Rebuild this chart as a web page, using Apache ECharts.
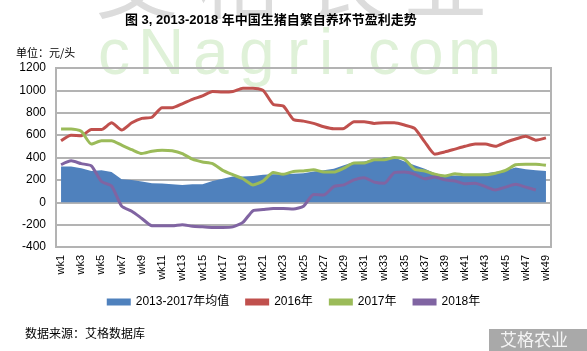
<!DOCTYPE html>
<html>
<head>
    <meta charset="utf-8">
    <title>图 3, 2013-2018 年中国生猪自繁自养环节盈利走势</title>
    <script src="https://cdn.jsdelivr.net/npm/echarts@6/dist/echarts.min.js"></script>
    <style>
        html, body { margin: 0; padding: 0; background: #ffffff; }
        #chart { width: 587px; height: 351px; }
    </style>
</head>
<body>
<div id="chart"></div>
<script>
    // 周次
    var weeks = [];
    for (var w = 1; w <= 49; w++) { weeks.push('wk' + w); }

    // 2013-2017年均值
    var avgData = [320, 320, 305, 280, 285, 270, 205, 200, 185, 170,
                   168, 160, 155, 160, 160, 190, 210, 230, 230, 235,
                   245, 250, 250, 255, 260, 275, 285, 300, 330, 360,
                   365, 385, 400, 400, 365, 330, 300, 260, 240, 240,
                   240, 245, 260, 270, 285, 310, 295, 285, 280];
    // 2016年
    var data2016 = [550, 600, 595, 650, 650, 710, 645, 710, 750, 760,
                    845, 845, 880, 920, 950, 990, 985, 990, 1020, 1020,
                    1000, 875, 860, 740, 725, 705, 675, 657, 660, 720,
                    720, 705, 710, 710, 690, 660, 540, 430, 450, 475,
                    500, 520, 520, 500, 535, 565, 590, 555, 575];
    // 2017年
    var data2017 = [655, 655, 635, 520, 550, 550, 510, 470, 435, 456,
                    465, 460, 435, 385, 360, 345, 285, 246, 210, 155,
                    190, 265, 250, 275, 280, 290, 270, 270, 305, 350,
                    350, 380, 380, 400, 385, 295, 280, 250, 235, 255,
                    245, 245, 245, 260, 285, 335, 340, 340, 330];
    // 2018年
    var data2018 = [335, 370, 345, 325, 185, 145, -35, -80, -145, -210,
                    -210, -210, -200, -215, -220, -225, -225, -220, -180, -75,
                    -65, -55, -55, -60, -35, 70, 65, 140, 155, 200,
                    220, 180, 170, 265, 270, 250, 210, 225, 200, 190,
                    165, 170, 140, 110, 135, 160, 135, 110, null];

    // 背景水印 cNagri.com，逐字排开
    var markLetters = ['c', 'N', 'a', 'g', 'r', 'i', '.', 'c', 'o', 'm'];
    var markLeft = [98, 138, 193, 239, 287, 319, 341, 368, 408, 448];

    var graphics = [
        {
            type: 'text', left: 95, top: -62, z: -1,
            style: { text: '艾 格 农 业', fontSize: 84, fill: '#dcdcdc',
                     fontFamily: '"Noto Sans CJK SC", sans-serif' }
        }
    ];
    markLetters.forEach(function (ch, i) {
        graphics.push({
            type: 'text', left: markLeft[i], top: 24, z: -1,
            style: { text: ch, fontSize: 64, fill: '#dff1d8',
                     fontFamily: 'Arial, "Liberation Sans", sans-serif' }
        });
    });
    graphics.push(
        {
            type: 'text', left: 16, top: 47,
            style: { text: '单位：元/头', fontSize: 11, fill: '#000',
                     fontFamily: '"Noto Sans CJK SC", sans-serif' }
        },
        {
            type: 'text', left: 25, top: 327,
            style: { text: '数据来源：艾格数据库', fontSize: 12, fill: '#000',
                     fontFamily: '"Noto Sans CJK SC", sans-serif' }
        },
        {
            type: 'rect', left: 489, top: 329,
            shape: { width: 98, height: 22 },
            style: { fill: '#a9a9a9' }
        },
        {
            type: 'text', left: 500, top: 331,
            style: { text: '艾格农业', fontSize: 17, fill: '#f4f4f4',
                     fontFamily: '"Noto Sans CJK SC", sans-serif' }
        }
    );

    var chart = echarts.init(document.getElementById('chart'));

    var option = {
        backgroundColor: '#ffffff',
        animation: false,
        textStyle: { fontFamily: 'Arial, "Liberation Sans", "Noto Sans CJK SC", sans-serif' },
        title: {
            text: '图 3, 2013-2018 年中国生猪自繁自养环节盈利走势',
            left: 120,
            top: 9,
            textStyle: { fontSize: 13, fontWeight: 'bold', color: '#000' }
        },
        graphic: graphics,
        legend: {
            top: 291,
            left: 'center',
            itemWidth: 24,
            itemHeight: 7,
            itemGap: 16,
            textStyle: { fontSize: 12, color: '#000' },
            data: [
                { name: '2013-2017年均值', icon: 'rect' },
                { name: '2016年', icon: 'rect' },
                { name: '2017年', icon: 'rect' },
                { name: '2018年', icon: 'rect' }
            ]
        },
        grid: {
            left: 56, right: 36, top: 68, bottom: 104,
            show: true, borderColor: '#b3b3b3', borderWidth: 2
        },
        xAxis: {
            type: 'category',
            data: weeks,
            boundaryGap: true,
            axisLine: { show: false },
            axisTick: { show: false },
            axisLabel: { interval: 1, rotate: 90, fontSize: 11, color: '#000', margin: 8 }
        },
        yAxis: {
            type: 'value',
            min: -400,
            max: 1200,
            interval: 200,
            axisLine: { show: false },
            axisTick: { show: false },
            axisLabel: {
                fontSize: 12, color: '#000', margin: 10,
                formatter: function (v) { return String(v); }
            },
            splitLine: { lineStyle: { color: '#b3b3b3', width: 2 } }
        },
        series: [
            {
                name: '2013-2017年均值',
                type: 'line',
                data: avgData,
                symbol: 'none',
                lineStyle: { width: 0 },
                itemStyle: { color: '#4f81bd' },
                areaStyle: { color: '#4f81bd', opacity: 1 }
            },
            {
                name: '2016年',
                type: 'line',
                data: data2016,
                symbol: 'none',
                smooth: 0.2,
                lineStyle: { width: 3, color: '#c0504d' },
                itemStyle: { color: '#c0504d' }
            },
            {
                name: '2017年',
                type: 'line',
                data: data2017,
                symbol: 'none',
                smooth: 0.2,
                lineStyle: { width: 3, color: '#9bbb59' },
                itemStyle: { color: '#9bbb59' }
            },
            {
                name: '2018年',
                type: 'line',
                data: data2018,
                symbol: 'none',
                smooth: 0.2,
                lineStyle: { width: 3, color: '#8064a2' },
                itemStyle: { color: '#8064a2' }
            }
        ]
    };

    chart.setOption(option);
</script>
</body>
</html>
